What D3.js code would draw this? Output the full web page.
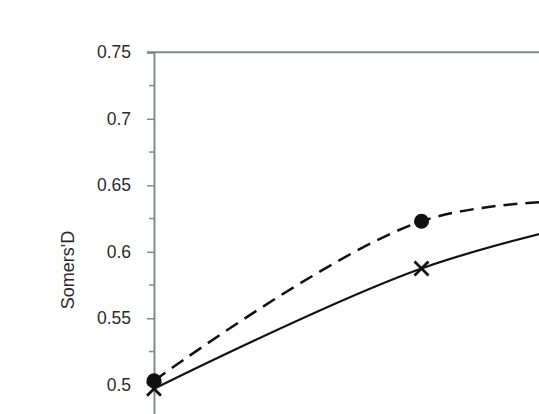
<!DOCTYPE html>
<html>
<head>
<meta charset="utf-8">
<script src="https://cdn.jsdelivr.net/npm/d3@7"></script>
<style>
  body { margin: 0; background: #fff; }
  svg { display: block; }
</style>
</head>
<body>
<svg width="539" height="414"></svg>
<script>
// datos
var categories = ["1", "2", "3"];
var dashedValues = [0.503, 0.623, 0.638];
var solidValues = [0.497, 0.5875, 0.640];
var yTicks = [0.5, 0.55, 0.6, 0.65, 0.7, 0.75];
var yMinorTicks = [0.475, 0.525, 0.575, 0.625, 0.675, 0.725];

var svg = d3.select("svg"),
    axisColor = "#848a88";

// escala X (el tercer punto cae fuera de la imagen)
var x = d3.scalePoint()
    .domain(categories)
    .range([154, 689]);

// escala Y
var y = d3.scaleLinear()
    .domain([0.45, 0.75])
    .range([451.3, 52.3]);

var g = svg.append("g");

// linea superior del marco
g.append("line")
    .attr("x1", 147).attr("x2", 539)
    .attr("y1", y(0.75)).attr("y2", y(0.75))
    .attr("stroke", axisColor)
    .attr("stroke-width", 2);

// eje Y
var yAxis = g.append("g")
    .attr("transform", "translate(154,0)")
    .call(d3.axisLeft(y).tickValues(yTicks).tickSize(7).tickPadding(16)
      .tickFormat(function(d) { return d3.format("")(+d.toFixed(2)); }));
yAxis.attr("font-size", 17.5).attr("font-family", "Liberation Sans, Arial, sans-serif");
yAxis.select(".domain").attr("stroke", axisColor).attr("stroke-width", 2);
yAxis.selectAll(".tick line").attr("stroke", axisColor).attr("stroke-width", 1.5);
yAxis.selectAll(".tick text")
    .attr("fill", "#2b2b2b");

// marcas menores
g.append("g").selectAll("line")
    .data(yMinorTicks)
    .enter().append("line")
      .attr("x1", 149).attr("x2", 154)
      .attr("y1", function(d) { return y(d); })
      .attr("y2", function(d) { return y(d); })
      .attr("stroke", axisColor)
      .attr("stroke-width", 1.5);

// titulo del eje Y
g.append("text")
    .attr("transform", "translate(74,270) rotate(-90)")
    .attr("text-anchor", "middle")
    .attr("fill", "#2b2b2b")
    .attr("font-family", "Liberation Sans, Arial, sans-serif")
    .attr("font-size", 18)
    .text("Somers'D");

var line = d3.line()
    .x(function(d, i) { return x(categories[i]); })
    .y(function(d) { return y(d); })
    .curve(d3.curveCardinal.tension(0));

// serie discontinua
g.append("path")
    .datum(dashedValues)
    .attr("d", line)
    .attr("fill", "none")
    .attr("stroke", "#111")
    .attr("stroke-width", 2.5)
    .attr("stroke-dasharray", "14,8");

// serie continua
g.append("path")
    .datum(solidValues)
    .attr("d", line)
    .attr("fill", "none")
    .attr("stroke", "#111")
    .attr("stroke-width", 2.2);

// marcadores circulares
g.append("g").selectAll("circle")
    .data(dashedValues)
    .enter().append("circle")
      .attr("cx", function(d, i) { return x(categories[i]); })
      .attr("cy", function(d) { return y(d); })
      .attr("r", 7.5)
      .attr("fill", "#111");

// marcadores en cruz
g.append("g").selectAll("path")
    .data(solidValues)
    .enter().append("path")
      .attr("transform", function(d, i) { return "translate(" + x(categories[i]) + "," + y(d) + ")"; })
      .attr("d", "M-7,-7L7,7M-7,7L7,-7")
      .attr("stroke", "#111")
      .attr("stroke-width", 2.8)
      .attr("fill", "none");
</script>
</body>
</html>
